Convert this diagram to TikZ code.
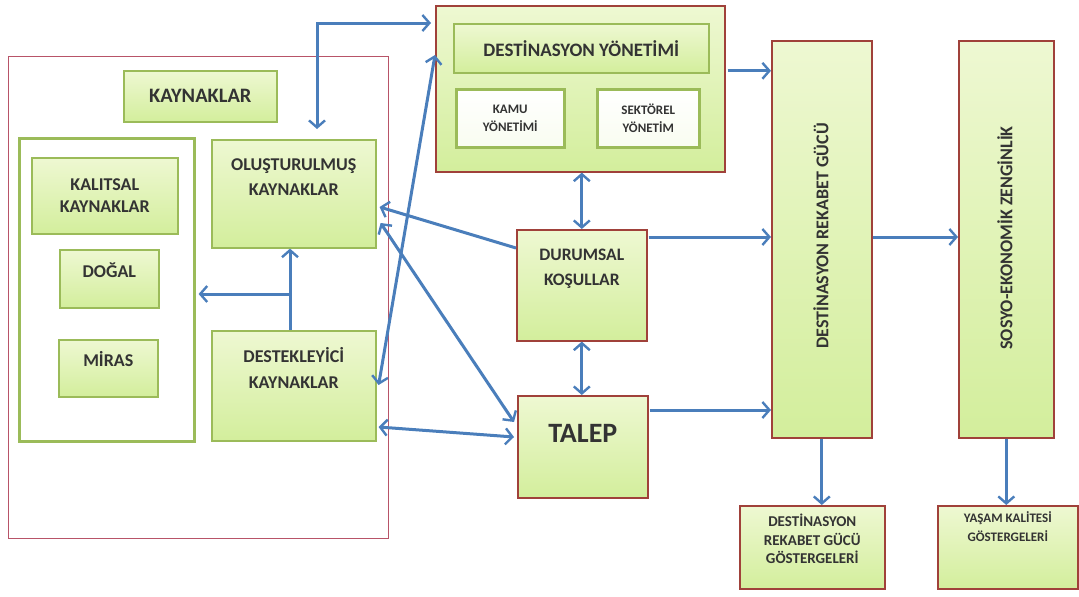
\documentclass[tikz,border=0pt]{standalone}
\usepackage{fontspec}
\setmainfont{Carlito}
\usetikzlibrary{arrows.meta,calc,shadows}
\definecolor{gtop}{HTML}{EEF8D2}
\definecolor{gbot}{HTML}{D3EE9C}
\definecolor{redb}{HTML}{A0413A}
\definecolor{greenb}{HTML}{9BBB59}
\definecolor{arrc}{HTML}{4A7EBB}
\definecolor{txtc}{HTML}{333333}
\definecolor{pinkb}{HTML}{B85468}
\tikzset{
 box/.style={draw, line width=1.6pt, top color=gtop, bottom color=gbot, rectangle, inner sep=0pt, anchor=north west,
   drop shadow={shadow xshift=1.5pt, shadow yshift=-1.5pt, opacity=0.25}},
 gbox/.style={box, draw=greenb},
 rbox/.style={box, draw=redb},
 wbox/.style={box, draw=greenb, line width=2.6pt, top color=white, bottom color=white!85!gbot},
 txt/.style={text=txtc, align=center, inner sep=0pt},
 arr/.style={draw=arrc, line width=3pt, -{Straight Barb[length=7pt,width=16pt,line width=2.4pt]}},
 arrb/.style={draw=arrc, line width=3pt, {Straight Barb[length=7pt,width=16pt,line width=2.4pt]}-{Straight Barb[length=7pt,width=16pt,line width=2.4pt]}},
 sz/.style 2 args={font=\bfseries\fontsize{#1}{#2}\selectfont},
}
\begin{document}
\begin{tikzpicture}[x=1pt,y=-1pt]
\useasboundingbox (0,0) rectangle (1079,597);
% resources area
\node[draw=pinkb, line width=1.3pt, rectangle, inner sep=0pt, anchor=north west, minimum width=380pt, minimum height=482pt] (res) at (8,56) {};
\node[gbox, minimum width=153pt, minimum height=51pt] (kay) at (123,70) {};
\node[txt, sz={20.5}{24}] at (kay.center) {KAYNAKLAR};
\node[draw=greenb, line width=2.6pt, fill=white, rectangle, inner sep=0pt, anchor=north west, minimum width=175pt, minimum height=303pt] (inner) at (18,137) {};
\node[gbox, minimum width=146pt, minimum height=76pt] (kal) at (31,157) {};
\node[txt, sz={18}{22}] at (kal.center) {KALITSAL\\KAYNAKLAR};
\node[gbox, minimum width=99pt, minimum height=58pt] (dog) at (59,249) {};
\node[txt, sz={18}{22}] at ($(dog.north)+(0,21)$) {DOĞAL};
\node[gbox, minimum width=99pt, minimum height=57pt] (mir) at (58,339) {};
\node[txt, sz={18}{22}] at ($(mir.north)+(0,20)$) {MİRAS};
\node[gbox, minimum width=164pt, minimum height=108pt] (olus) at (211,139) {};
\node[txt, sz={18}{25}] at ($(olus.north)+(0,38)$) {OLUŞTURULMUŞ\\KAYNAKLAR};
\node[gbox, minimum width=164pt, minimum height=110pt] (dest) at (211,330) {};
\node[txt, sz={18}{26}] at ($(dest.north)+(0,38)$) {DESTEKLEYİCİ\\KAYNAKLAR};
% destination management
\node[rbox, minimum width=289pt, minimum height=166pt] (dyo) at (435,5) {};
\node[gbox, minimum width=255pt, minimum height=49pt] (dyi) at (453,23) {};
\node[txt, sz={19}{22}] at (dyi.center) {DESTİNASYON YÖNETİMİ};
\node[wbox, minimum width=108pt, minimum height=58pt] (kamu) at (455,88) {};
\node[txt, sz={13}{18}] at (kamu.center) {KAMU\\YÖNETİMİ};
\node[wbox, minimum width=102pt, minimum height=58pt] (sek) at (596,88) {};
\node[txt, sz={13}{18}] at (sek.center) {SEKTÖREL\\YÖNETİM};
% middle
\node[rbox, minimum width=130pt, minimum height=111pt] (dur) at (516,229) {};
\node[txt, sz={17.5}{25}] at ($(dur.north)+(0,40)$) {DURUMSAL\\KOŞULLAR};
\node[rbox, minimum width=130pt, minimum height=102pt] (talep) at (517,395) {};
\node[txt, sz={28}{32}] at ($(talep.north)+(0,38)$) {TALEP};
% right columns
\node[rbox, minimum width=100pt, minimum height=397pt] (drg) at (771,40) {};
\node[txt, sz={18}{20}, rotate=90] at (821,236) {DESTİNASYON REKABET GÜCÜ};
\node[rbox, minimum width=95pt, minimum height=397pt] (sez) at (958,40) {};
\node[txt, sz={18}{20}, rotate=90] at (1005,238) {SOSYO-EKONOMİK ZENGİNLİK};
\node[rbox, minimum width=145pt, minimum height=83pt] (g1) at (739,505) {};
\node[txt, sz={15}{18.5}] at ($(g1.north)+(0,34)$) {DESTİNASYON\\REKABET GÜCÜ\\GÖSTERGELERİ};
\node[rbox, minimum width=140pt, minimum height=83pt] (g2) at (937,505) {};
\node[txt, sz={13}{19}] at ($(g2.north)+(0,22)$) {YAŞAM KALİTESİ\\GÖSTERGELERİ};
% connectors
\coordinate (k1) at (317,23);
\draw[arrb] ($(olus.north -| k1)+(0,-10)$) -- (k1) -- ($(dyo.west |- k1)+(-4,0)$);
\draw[arrb] (dur.north) -- (dur.north |- dyo.south);
\draw[arrb] (dur.south) -- (dur.south |- talep.north);
\draw[arr] ($(dur.north west)+(0,19)$) -- ($(olus.north east)+(3,68)$);
\draw[arrb] ($(olus.north east)+(4,84)$) -- ($(talep.north west)+(-3,27)$);
\draw[arrb] ($(dest.north east)+(2,55)$) -- ($(dyo.north west)+(0,50)$);
\draw[arrb] ($(dest.north east)+(2,97)$) -- ($(talep.north west)+(-3,42)$);
\coordinate (j) at (290,294);
\draw[arr] (dest.north -| j) -- (olus.south -| j);
\draw[arr] (j) -- ($(inner.east |- j)+(3,0)$);
\coordinate (a9) at ($(dyo.east)+(2,-18)$);
\draw[arr] (a9) -- (drg.west |- a9);
\coordinate (a10) at ($(dur.north east)+(1,8)$);
\draw[arr] (a10) -- (drg.west |- a10);
\coordinate (a11) at ($(talep.north east)+(1,15)$);
\draw[arr] (a11) -- (drg.west |- a11);
\coordinate (a12) at (drg.east |- a10);
\draw[arr] (a12) -- (sez.west |- a12);
\draw[arr] (drg.south) -- (drg.south |- g1.north);
\draw[arr] (sez.south) -- (sez.south |- g2.north);
\end{tikzpicture}
\end{document}
